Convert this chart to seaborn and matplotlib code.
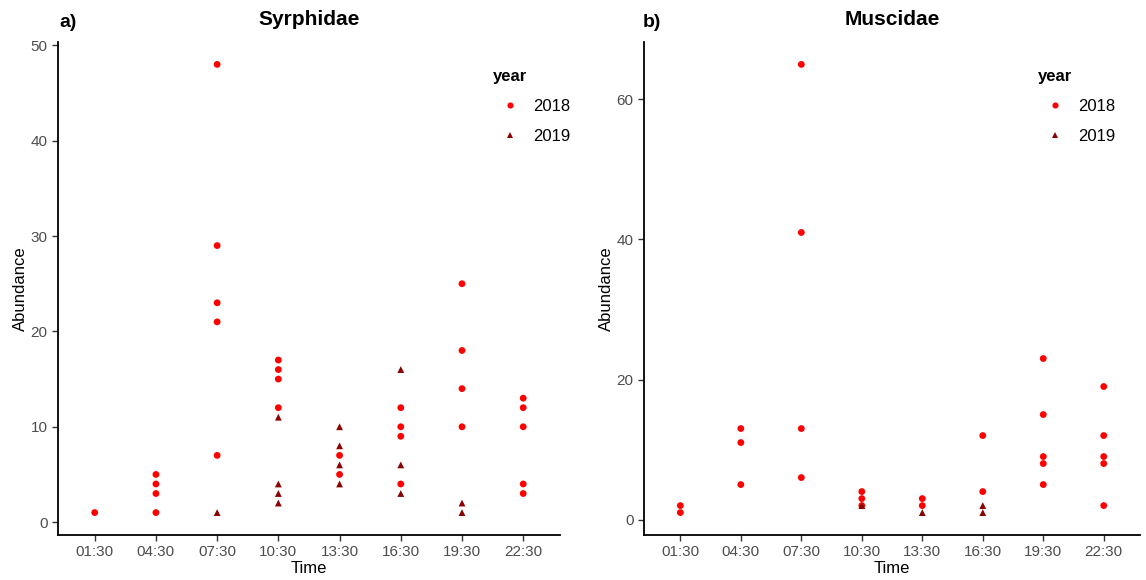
import pandas as pd
import seaborn as sns
import matplotlib.pyplot as plt

times = ["01:30", "04:30", "07:30", "10:30", "13:30", "16:30", "19:30", "22:30"]

# Syrphidae abundance per time slot
syr_2018 = [[1], [1, 3, 4, 5], [7, 21, 23, 29, 48], [12, 15, 16, 17],
            [5, 7], [4, 9, 10, 12], [10, 14, 18, 25], [3, 4, 10, 12, 13]]
syr_2019 = [[], [], [1], [2, 3, 4, 11],
            [4, 6, 8, 10], [3, 6, 16], [1, 2], []]

# Muscidae abundance per time slot
mus_2018 = [[1, 2], [5, 11, 13], [6, 13, 41, 65], [2, 3, 4],
            [2, 3], [4, 12], [5, 8, 9, 15, 23], [2, 8, 9, 12, 19]]
mus_2019 = [[], [], [], [2],
            [1], [1, 2], [], []]


def make_df(v18, v19):
    rows = []
    for t, vals in zip(times, v18):
        for v in vals:
            rows.append((t, v, "2018"))
    for t, vals in zip(times, v19):
        for v in vals:
            rows.append((t, v, "2019"))
    df = pd.DataFrame(rows, columns=["Time", "Abundance", "year"])
    df["Time"] = pd.Categorical(df["Time"], categories=times, ordered=True)
    return df


sns.set_theme(style="white")
plt.rcParams["font.family"] = ["Liberation Sans", "DejaVu Sans"]
plt.rcParams["text.color"] = "black"

fig = plt.figure(figsize=(11.46, 5.8), dpi=100)
ax1 = fig.add_axes([0.0506, 0.0776, 0.438, 0.85])
ax2 = fig.add_axes([0.562, 0.0776, 0.4328, 0.85])

pal = {"2018": "#FF0000", "2019": "#8B0000"}
marks = {"2018": "o", "2019": "^"}

panels = [
    (ax1, make_df(syr_2018, syr_2019), "Syrphidae", [0, 10, 20, 30, 40, 50], (-1.35, 50.35), 0.837),
    (ax2, make_df(mus_2018, mus_2019), "Muscidae", [0, 20, 40, 60], (-2.2, 68.2), 0.764),
]

for ax, df, title, yt, yl, legx in panels:
    sns.scatterplot(data=df, x="Time", y="Abundance", hue="year", style="year",
                    palette=pal, markers=marks, s=24, linewidth=0, ax=ax)
    ax.set_xlim(-0.6, 7.6)
    ax.set_ylim(*yl)
    ax.set_xticks(range(len(times)))
    ax.set_xticklabels(times)
    ax.set_yticks(yt)
    ax.tick_params(axis="both", labelsize=11, labelcolor="#4d4d4d", length=4,
                   width=1, color="#333333", bottom=True, left=True)
    for side in ["top", "right"]:
        ax.spines[side].set_visible(False)
    for side in ["left", "bottom"]:
        ax.spines[side].set_color("black")
        ax.spines[side].set_linewidth(1.3)
    ax.set_xlabel("Time", fontsize=12, color="black", labelpad=1)
    ax.set_ylabel("Abundance", fontsize=12, color="black", labelpad=2)
    ax.set_title(title, fontsize=15, fontweight="bold", pad=12, color="black")
    handles, labels = ax.get_legend_handles_labels()
    leg = ax.legend(handles, labels, title="year", frameon=False, loc="upper left",
                    bbox_to_anchor=(legx, 0.975), fontsize=12, title_fontsize=12,
                    handletextpad=0.4, labelspacing=0.9, markerscale=0.9)
    leg.get_title().set_fontweight("bold")
    leg._legend_box.align = "left"

fig.text(0.0515, 0.962, "a)", fontsize=14, fontweight="bold", va="center")
fig.text(0.561, 0.962, "b)", fontsize=14, fontweight="bold", va="center")

fig.savefig("out.png", dpi=100)
